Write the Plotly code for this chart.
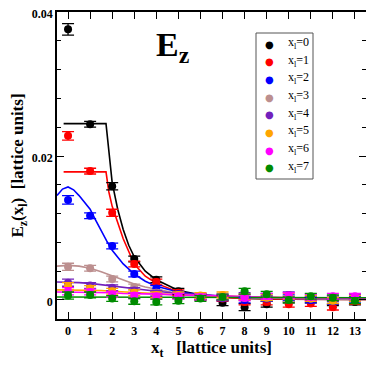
import plotly.graph_objects as go

# lattice time slices
x_t = list(range(14))

# measured E_z(x_l) per transverse distance x_l
ez_0 = [0.0376, 0.0244, 0.0158, 0.0057, 0.0028, 0.0012, 0.0004, -0.0004, -0.0010, -0.0006, 0.0000, 0.0000, -0.0004, -0.0003]
ez_1 = [0.0228, 0.0179, 0.0121, 0.0050, 0.0025, 0.0010, 0.0004, 0.0002, -0.0003, -0.0003, -0.0006, -0.0005, -0.0010, -0.0002]
ez_2 = [0.0139, 0.0117, 0.0075, 0.0036, 0.0016, 0.0008, 0.0005, 0.0003, 0.0000, 0.0002, 0.0003, 0.0000, -0.0002, 0.0001]
ez_3 = [0.0046, 0.0044, 0.0029, 0.0018, 0.0010, 0.0006, 0.0005, 0.0004, 0.0003, 0.0004, 0.0002, 0.0002, 0.0001, 0.0003]
ez_4 = [0.0024, 0.0020, 0.0017, 0.0013, 0.0009, 0.0006, 0.0004, 0.0003, 0.0006, 0.0005, 0.0007, 0.0004, 0.0002, 0.0004]
ez_5 = [0.0019, 0.0016, 0.0012, 0.0010, 0.0007, 0.0007, 0.0006, 0.0007, 0.0004, 0.0003, 0.0005, 0.0002, -0.0001, 0.0002]
ez_6 = [0.0012, 0.0011, 0.0008, 0.0006, 0.0005, 0.0005, 0.0004, 0.0004, 0.0003, 0.0005, 0.0006, 0.0004, 0.0005, 0.0005]
ez_7 = [0.0006, 0.0007, 0.0002, -0.0002, -0.0003, -0.0001, 0.0002, 0.0004, 0.0012, 0.0008, 0.0000, 0.0005, 0.0003, -0.0001]

err_0 = [0.0008, 0.0004, 0.0005, 0.0004, 0.0004, 0.0004, 0.0004, 0.0004, 0.0005, 0.0004, 0.0004, 0.0004, 0.0004, 0.0004]
err_1 = [0.0006, 0.0004, 0.0005, 0.0004, 0.0004, 0.0004, 0.0004, 0.0004, 0.0004, 0.0004, 0.0004, 0.0004, 0.0004, 0.0004]
err_2 = [0.0006, 0.0004, 0.0004, 0.0004, 0.0004, 0.0004, 0.0004, 0.0004, 0.0004, 0.0004, 0.0004, 0.0004, 0.0004, 0.0004]
err_3 = [0.0005, 0.0004, 0.0004, 0.0004, 0.0004, 0.0004, 0.0004, 0.0004, 0.0004, 0.0004, 0.0004, 0.0004, 0.0004, 0.0004]
err_4 = [0.0005, 0.0004, 0.0004, 0.0004, 0.0004, 0.0004, 0.0004, 0.0004, 0.0004, 0.0004, 0.0004, 0.0004, 0.0004, 0.0004]
err_5 = [0.0005, 0.0004, 0.0004, 0.0004, 0.0004, 0.0004, 0.0004, 0.0004, 0.0004, 0.0004, 0.0004, 0.0004, 0.0004, 0.0004]
err_6 = [0.0005, 0.0004, 0.0004, 0.0004, 0.0004, 0.0004, 0.0004, 0.0004, 0.0004, 0.0004, 0.0004, 0.0004, 0.0004, 0.0004]
err_7 = [0.0005, 0.0004, 0.0004, 0.0004, 0.0004, 0.0004, 0.0004, 0.0004, 0.0004, 0.0004, 0.0004, 0.0004, 0.0004, 0.0004]

# fit curves
fit_x_0 = [-0.2, 1.72, 2.0, 2.25, 2.5, 2.75, 3.0, 3.5, 4.0, 5.0, 6.0, 7.0, 8.0, 10.0, 13.5]
fit_y_0 = [0.0245, 0.0245, 0.0163, 0.0126, 0.0098, 0.0076, 0.0060, 0.0040, 0.0028, 0.0013, 0.0007, 0.0004, 0.0002, 0.0001, 0.00005]
fit_x_1 = [-0.2, 1.72, 1.85, 2.0, 2.5, 3.0, 3.5, 4.0, 5.0, 6.0, 7.0, 8.0, 10.0, 13.5]
fit_y_1 = [0.0178, 0.0178, 0.0150, 0.0130, 0.0085, 0.0050, 0.0033, 0.0023, 0.0011, 0.0006, 0.0003, 0.0002, 0.0001, 0.00005]
fit_x_2 = [-0.5, -0.25, 0, 0.25, 0.5, 0.75, 1, 1.25, 1.5, 1.75, 2, 2.5, 3, 3.5, 4, 5, 6, 7, 8, 10, 13.5]
fit_y_2 = [0.0145, 0.0154, 0.0157, 0.0153, 0.0145, 0.0136, 0.0126, 0.0111, 0.0096, 0.0082, 0.0069, 0.0050, 0.0036, 0.0026, 0.0019, 0.0011, 0.0007, 0.0005, 0.0003, 0.0002, 0.0001]
fit_x_n = [-0.5, 0, 0.5, 1, 1.5, 2, 2.5, 3, 3.5, 4, 5, 6, 7, 8, 10, 13.5]
fit_y_3 = [0.0047, 0.0048, 0.0047, 0.0044, 0.0039, 0.0033, 0.0027, 0.0022, 0.0018, 0.0015, 0.0009, 0.0006, 0.0004, 0.0003, 0.0002, 0.0001]
fit_y_4 = [0.0025, 0.0025, 0.0024, 0.0023, 0.0021, 0.0019, 0.0017, 0.0015, 0.0013, 0.0012, 0.0009, 0.0007, 0.0005, 0.0004, 0.0003, 0.0002]
fit_y_5 = [0.0014, 0.0014, 0.0014, 0.0013, 0.0013, 0.0012, 0.0011, 0.0010, 0.0009, 0.0009, 0.0007, 0.0006, 0.0005, 0.0004, 0.0003, 0.0002]
fit_y_6 = [0.0011, 0.0011, 0.0011, 0.0011, 0.0010, 0.0010, 0.0009, 0.0009, 0.0008, 0.0008, 0.0007, 0.0006, 0.0005, 0.0004, 0.0003, 0.0002]
fit_y_7 = [0.0004, 0.0004, 0.0004, 0.0004, 0.0004, 0.0004, 0.0004, 0.0004, 0.0004, 0.0004, 0.0003, 0.0003, 0.0003, 0.0003, 0.0003, 0.0003]

y_ticks = [0, 0.02, 0.04]
y_ticklabels = ['0', '0.02', '0.04']

labels = ['x<sub>l</sub>=%d' % i for i in range(8)]
colors = ['#000000', '#ff0000', '#0000ff', '#bc8f8f', '#7221bc', '#ffa500', '#ff00ff', '#008b00']

series = [ez_0, ez_1, ez_2, ez_3, ez_4, ez_5, ez_6, ez_7]
errors = [err_0, err_1, err_2, err_3, err_4, err_5, err_6, err_7]
fits = [(fit_x_0, fit_y_0), (fit_x_1, fit_y_1), (fit_x_2, fit_y_2), (fit_x_n, fit_y_3),
        (fit_x_n, fit_y_4), (fit_x_n, fit_y_5), (fit_x_n, fit_y_6), (fit_x_n, fit_y_7)]

serif = "Liberation Serif"

# 页面 body 默认有 8px 边距，图尺寸相应缩小
OFF = 8
W, H = 374 - OFF, 365 - OFF
# 绘图区在页面上的像素位置: x 57..366, y 12..319
PL, PR, PT, PB = 57, 366, 12, 319
ML, MR, MT, MB = PL - OFF, W - (PR - OFF), PT - OFF, H - (PB - OFF)


def px(x):
    return (x - PL) / (PR - PL)


def py(y):
    return (PB - y) / (PB - PT)


fig = go.Figure()

# 拟合曲线
for (fx, fy), c in zip(fits, colors):
    fig.add_trace(go.Scatter(
        x=fx, y=fy, mode='lines',
        line=dict(color=c, width=1.6),
        showlegend=False, hoverinfo='skip'
    ))

# 数据点 + 误差棒
for y, e, c, name in zip(series, errors, colors, labels):
    fig.add_trace(go.Scatter(
        x=x_t, y=y, mode='markers', name=name,
        marker=dict(color=c, size=8),
        error_y=dict(type='data', array=e, color=c, thickness=1.3, width=6),
        showlegend=False
    ))

# 图内标题
fig.add_annotation(
    text='<b>E<sub>z</sub></b>', xref='paper', yref='paper',
    x=px(173), y=py(47), xanchor='center', yanchor='middle',
    showarrow=False, font=dict(family=serif, size=34, color='black')
)

# 手绘图例（plotly 自带图例太宽）
fig.add_shape(
    type='rect', xref='paper', yref='paper',
    x0=px(256), x1=px(313), y0=py(179), y1=py(33),
    line=dict(color='#555555', width=1), fillcolor='white', layer='above'
)
for i, (c, name) in enumerate(zip(colors, labels)):
    yc = 44 + i * 17.7
    fig.add_annotation(
        text='●', xref='paper', yref='paper', x=px(269), y=py(yc),
        xanchor='center', yanchor='middle', showarrow=False,
        font=dict(family='DejaVu Sans', size=10, color=c)
    )
    fig.add_annotation(
        text=name, xref='paper', yref='paper', x=px(286), y=py(yc - 1),
        xanchor='left', yanchor='middle', showarrow=False,
        font=dict(family=serif, size=12, color='black')
    )

fig.update_layout(
    width=W, height=H,
    margin=dict(l=ML, r=MR, t=MT, b=MB),
    plot_bgcolor='white',
    paper_bgcolor='white',
    font=dict(family=serif, size=12, color='black'),
    showlegend=False
)

fig.update_xaxes(
    range=[-0.5, 13.5], dtick=1, tick0=0, automargin=False,
    showgrid=False, zeroline=False,
    showline=True, linecolor='black', linewidth=1.5, mirror='ticks',
    ticks='inside', ticklen=7, tickcolor='black', ticklabeloverflow='allow',
    tickfont=dict(family=serif, size=12, weight='bold'),
    title=dict(text='<b>x<sub>t</sub>   [lattice units]</b>', font=dict(family=serif, size=17), standoff=3)
)
fig.update_yaxes(
    range=[-0.00265, 0.04001], tickmode='array', tickvals=y_ticks, ticktext=y_ticklabels,
    automargin=False, ticklabeloverflow='allow', ticklabelshift=2,
    showgrid=False, zeroline=False,
    showline=True, linecolor='black', linewidth=1.5, mirror='ticks',
    ticks='inside', ticklen=7, tickcolor='black',
    tickfont=dict(family=serif, size=12, weight='bold'),
    minor=dict(dtick=0.004, tick0=0, ticks='inside', ticklen=4, tickcolor='black', showgrid=False),
    title=dict(text='<b>E<sub>z</sub>(x<sub>l</sub>)  [lattice units]</b>', font=dict(family=serif, size=17), standoff=4)
)

fig.write_html("out.html")
